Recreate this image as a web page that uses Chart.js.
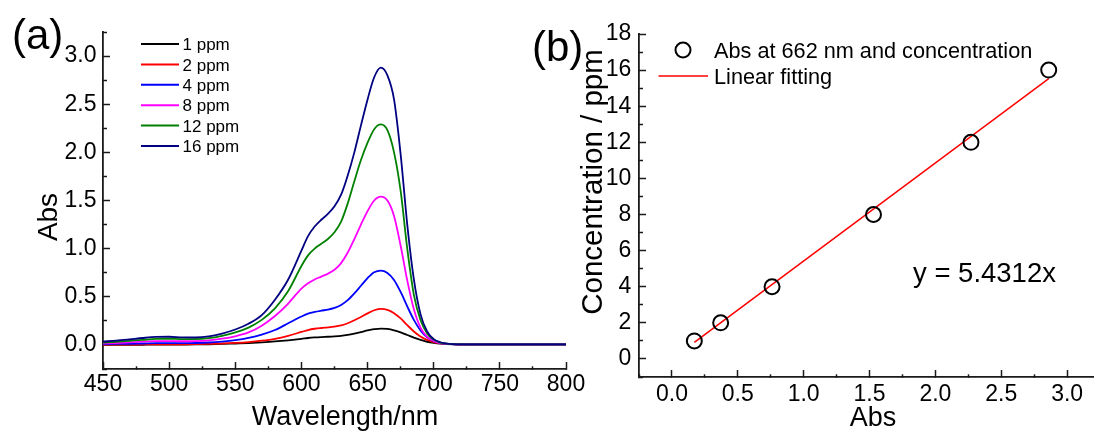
<!DOCTYPE html>
<html>
<head>
<meta charset="utf-8">
<script src="https://cdn.jsdelivr.net/npm/chart.js@4.4.1/dist/chart.umd.min.js"></script>
<style>
  html, body { margin: 0; padding: 0; background: #fff; }
  #wrap { position: relative; width: 1103px; height: 432px; overflow: hidden; background: #fff; }
  #spec { position: absolute; left: 0; top: 0; }
  #calib { position: absolute; left: 520px; top: 0; }
</style>
</head>
<body>
<div id="wrap">
  <canvas id="spec" width="600" height="432"></canvas>
  <canvas id="calib" width="583" height="432"></canvas>
</div>
<script>
// ---- (a) UV-Vis absorption spectra ----
const wavelengths = [450,460,470,480,490,500,510,520,530,540,550,560,570,580,590,600,
  605,610,615,620,625,630,635,640,645,650,655,660,665,670,675,680,685,690,695,700,705,710,
  720,730,740,750,760,770,780,790,800];

const abs1ppm = [0.000,0.001,0.001,0.002,0.003,0.003,0.004,0.005,0.007,0.010,0.015,0.020,0.027,0.036,0.048,0.063,
  0.072,0.078,0.082,0.085,0.089,0.095,0.105,0.118,0.133,0.150,0.163,0.170,0.166,0.152,0.130,0.103,0.076,0.052,0.033,0.021,0.013,0.008,
  0.004,0.004,0.004,0.004,0.004,0.004,0.004,0.004,0.004];
const abs2ppm = [0.003,0.003,0.004,0.005,0.006,0.006,0.007,0.008,0.011,0.015,0.021,0.030,0.044,0.064,0.095,0.135,
  0.155,0.168,0.176,0.182,0.190,0.203,0.225,0.256,0.290,0.328,0.360,0.375,0.365,0.330,0.275,0.205,0.140,0.088,0.052,0.030,0.017,0.010,
  0.006,0.005,0.005,0.005,0.005,0.005,0.005,0.005,0.005];
const abs4ppm = [0.008,0.010,0.012,0.015,0.018,0.018,0.018,0.020,0.025,0.035,0.050,0.073,0.107,0.155,0.225,0.295,
  0.325,0.343,0.356,0.367,0.385,0.415,0.465,0.535,0.615,0.695,0.755,0.772,0.748,0.675,0.550,0.400,0.260,0.150,0.080,0.040,0.020,0.011,
  0.006,0.005,0.005,0.005,0.005,0.005,0.005,0.005,0.005];
const abs8ppm = [0.015,0.020,0.027,0.034,0.040,0.040,0.038,0.040,0.048,0.065,0.090,0.130,0.200,0.300,0.430,0.585,
  0.640,0.680,0.710,0.740,0.780,0.850,0.960,1.100,1.250,1.390,1.500,1.540,1.500,1.340,1.030,0.670,0.370,0.180,0.085,0.042,0.020,0.011,
  0.006,0.005,0.005,0.005,0.005,0.005,0.005,0.005,0.005];
const abs12ppm = [0.025,0.033,0.043,0.053,0.062,0.064,0.060,0.060,0.070,0.095,0.130,0.180,0.260,0.380,0.560,0.820,
  0.930,1.000,1.050,1.100,1.170,1.280,1.470,1.700,1.920,2.100,2.240,2.290,2.230,2.000,1.600,1.000,0.520,0.260,0.120,0.055,0.025,0.013,
  0.006,0.005,0.005,0.005,0.005,0.005,0.005,0.005,0.005];
const abs16ppm = [0.035,0.045,0.058,0.072,0.083,0.085,0.078,0.077,0.088,0.118,0.160,0.220,0.310,0.470,0.680,0.980,
  1.130,1.230,1.300,1.360,1.440,1.560,1.760,2.000,2.280,2.550,2.780,2.880,2.800,2.550,1.980,1.250,0.680,0.320,0.140,0.060,0.028,0.014,
  0.006,0.005,0.005,0.005,0.005,0.005,0.005,0.005,0.005];

const spectra = [abs1ppm, abs2ppm, abs4ppm, abs8ppm, abs12ppm, abs16ppm];
const seriesLabels = ['1 ppm', '2 ppm', '4 ppm', '8 ppm', '12 ppm', '16 ppm'];
const seriesColors = ['#000000', '#ff0000', '#0000ff', '#ff00ff', '#008000', '#000080'];

// ---- (b) calibration: absorbance at 662 nm vs concentration ----
const concentrations = [1, 2, 4, 8, 12, 16];
const peakAbs = [0.17, 0.37, 0.76, 1.53, 2.27, 2.86];
const fitSlope = 5.4312;
const pointLabel = 'Abs at 662 nm and concentration';
const fitLabel = 'Linear fitting';
const equationText = 'y = ' + fitSlope + 'x';

// ---- axis titles and ranges ----
const specXTitle = 'Wavelength/nm';
const specYTitle = 'Abs';
const calibXTitle = 'Abs';
const calibYTitle = 'Concentration / ppm';
const specXRange = [450, 800, 25, 50];     // min, max, minor step, labelled step
const specYRange = [-0.25, 3.25, 0.25, 0.5];
const calibXRange = [-0.25, 3.2, 0.25, 0.5];
const calibYRange = [-1, 18, 1, 2];

const FAMILY = '"Liberation Sans", Arial, Helvetica, sans-serif';
const AXIS_COLOR = '#1a1a1a';
const TICK = 7;
const TICK_FONT = 23;
Chart.defaults.font.family = FAMILY;
Chart.defaults.color = '#000';

function onStep(v, s) {
  const r = v / s;
  return Math.abs(r - Math.round(r)) < 1e-6;
}

// Linear axis with inward ticks; the shorter minor ticks come from a dash pattern.
function makeAxis(range, position, size, labelPad, format) {
  const [min, max, step, major] = range;
  const vertical = position === 'left';
  const isMajor = c => !c.tick || onStep(c.tick.value, major);
  return {
    type: 'linear', position, min, max,
    ticks: {
      stepSize: step, autoSkip: false, maxRotation: 0, minRotation: 0, includeBounds: false,
      padding: labelPad, color: '#000', font: { size: TICK_FONT },
      callback: v => onStep(v, major) ? format(v) : ''
    },
    grid: {
      drawOnChartArea: false, drawTicks: true, tickLength: -TICK,
      tickColor: AXIS_COLOR, tickWidth: 1.5,
      tickBorderDash: c => isMajor(c) ? [] : (vertical ? [20, 3] : [3.5, 20]),
      tickBorderDashOffset: c => isMajor(c) ? 0 : (vertical ? 20 : 0)
    },
    border: { display: true, color: AXIS_COLOR, width: 1.8 },
    afterFit: s => {
      if (vertical) s.width = size; else s.height = size;
      s.paddingLeft = 0; s.paddingRight = 0; s.paddingTop = 0; s.paddingBottom = 0;
    }
  };
}

function drawText(ctx, str, x, y, size, align, rotate) {
  ctx.save();
  ctx.font = size + 'px ' + FAMILY;
  ctx.fillStyle = '#000';
  ctx.textAlign = align || 'left';
  ctx.textBaseline = 'alphabetic';
  ctx.translate(x, y);
  if (rotate) ctx.rotate(-Math.PI / 2);
  ctx.fillText(str, 0, 0);
  ctx.restore();
}

const specDecor = {
  id: 'specDecor',
  afterDraw(chart) {
    const ctx = chart.ctx;
    drawText(ctx, '(a)', 12, 49, 42);
    drawText(ctx, specXTitle, 345, 425, 27, 'center');
    drawText(ctx, specYTitle, 57, 217, 28, 'center', true);
    // legend
    chart.data.datasets.forEach((ds, i) => {
      const yc = 44 + i * 20.4;
      ctx.save();
      ctx.strokeStyle = ds.borderColor;
      ctx.lineWidth = 2;
      ctx.beginPath();
      ctx.moveTo(141, yc);
      ctx.lineTo(179, yc);
      ctx.stroke();
      ctx.restore();
      drawText(ctx, ds.label, 182.5, yc + 6.1, 17);
    });
  }
};

const OX = 520; // left edge of the calibration canvas on the page
const calibDecor = {
  id: 'calibDecor',
  afterDraw(chart) {
    const ctx = chart.ctx;
    drawText(ctx, '(b)', 532 - OX, 61, 42);
    drawText(ctx, calibXTitle, 873 - OX, 426, 27, 'center');
    drawText(ctx, calibYTitle, 601.5 - OX, 182, 29.5, 'center', true);
    drawText(ctx, equationText, 913 - OX, 281.5, 27.5);
    // legend
    const pts = chart.data.datasets[0];
    ctx.save();
    ctx.strokeStyle = pts.borderColor;
    ctx.lineWidth = pts.borderWidth;
    ctx.beginPath();
    ctx.arc(683 - OX, 50, pts.pointRadius, 0, Math.PI * 2);
    ctx.stroke();
    const fit = chart.data.datasets[1];
    ctx.strokeStyle = fit.borderColor;
    ctx.lineWidth = fit.borderWidth;
    ctx.beginPath();
    ctx.moveTo(658.5 - OX, 76);
    ctx.lineTo(708 - OX, 76);
    ctx.stroke();
    ctx.restore();
    drawText(ctx, pts.label, 714 - OX, 57.5, 21.7);
    drawText(ctx, fit.label, 714 - OX, 83.5, 21.7);
  }
};

new Chart(document.getElementById('spec'), {
  type: 'line',
  data: {
    datasets: seriesLabels.map((label, i) => ({
      label,
      data: wavelengths.map((w, j) => ({ x: w, y: spectra[i][j] })),
      borderColor: seriesColors[i],
      backgroundColor: seriesColors[i],
      borderWidth: 1.8,
      pointRadius: 0,
      fill: false,
      cubicInterpolationMode: 'monotone',
      order: seriesLabels.length - 1 - i
    }))
  },
  options: {
    responsive: false, animation: false, devicePixelRatio: 1,
    layout: { padding: { left: 0, top: 32, right: 34, bottom: 0 } },
    plugins: { legend: { display: false }, tooltip: { enabled: false } },
    scales: {
      x: makeAxis(specXRange, 'bottom', 63, 8.7, v => String(v)),
      y: makeAxis(specYRange, 'left', 103, 13.5, v => v.toFixed(1))
    }
  },
  plugins: [specDecor]
});

const fitX = [Math.min(...peakAbs), Math.max(...peakAbs)];

new Chart(document.getElementById('calib'), {
  type: 'scatter',
  data: {
    datasets: [
      {
        label: pointLabel,
        data: peakAbs.map((a, i) => ({ x: a, y: concentrations[i] })),
        pointStyle: 'circle',
        pointRadius: 7.5,
        pointBorderWidth: 2,
        borderWidth: 2,
        borderColor: '#000',
        pointBorderColor: '#000',
        backgroundColor: 'rgba(0,0,0,0)',
        pointBackgroundColor: 'rgba(0,0,0,0)',
        order: 0
      },
      {
        type: 'line',
        label: fitLabel,
        data: fitX.map(x => ({ x, y: fitSlope * x })),
        borderColor: '#ff0000',
        borderWidth: 1.5,
        pointRadius: 0,
        showLine: true,
        fill: false,
        order: 1
      }
    ]
  },
  options: {
    responsive: false, animation: false, devicePixelRatio: 1,
    layout: { padding: { left: 0, top: 34, right: 0, bottom: 0 } },
    plugins: { legend: { display: false }, tooltip: { enabled: false } },
    scales: {
      x: makeAxis(calibXRange, 'bottom', 55, 10.5, v => v.toFixed(1)),
      y: makeAxis(calibYRange, 'left', 119, 14.6, v => String(v))
    }
  },
  plugins: [calibDecor]
});
</script>
</body>
</html>
